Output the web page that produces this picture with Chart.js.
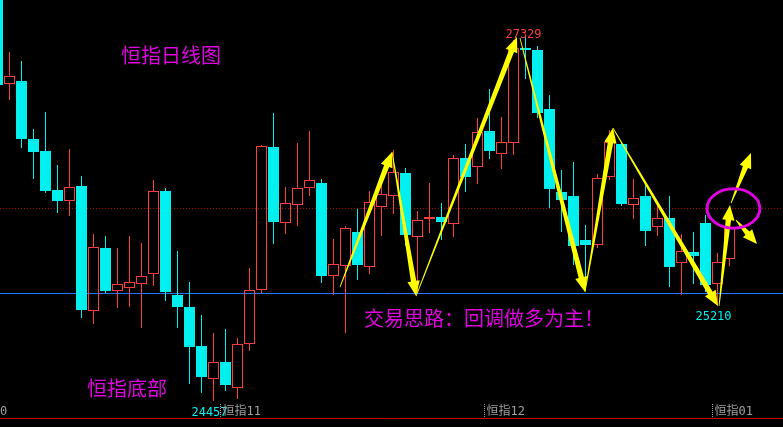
<!DOCTYPE html>
<html>
<head>
<meta charset="utf-8">
<script src="https://cdn.jsdelivr.net/npm/chart.js@4.4.1/dist/chart.umd.min.js"></script>
<style>
  html, body { margin: 0; padding: 0; background: #000; overflow: hidden; }
  #chart-container { width: 783px; height: 427px; }
</style>
</head>
<body>
<div id="chart-container"><canvas id="kline" width="783" height="427"></canvas></div>
<script>
// Daily candles, Hang Seng index
const opens  = [27774, 26955, 26978, 26521, 26427, 26120, 26033, 26151, 25166, 25663, 25324, 25347, 25379, 25458, 26112, 25292,
                25198, 24891, 24631, 24764, 24560, 24906, 25332, 26458, 25860, 26001, 26135, 26175, 25442, 25521, 25789, 25513,
                25986, 26072, 26254, 25749, 25891, 25907, 25852, 26372, 26301, 26584, 26403, 26490, 27238, 27223, 26758, 26104,
                26072, 25726, 25686, 26222, 26482, 26001, 26072, 25828, 25899, 25545, 25631, 25860, 25379, 25576];
const highs  = [27853, 27207, 27136, 26600, 26734, 26317, 26443, 26230, 25773, 25757, 25663, 25757, 25702, 26198, 26135, 25639,
                25395, 25135, 24993, 25024, 24954, 25505, 26474, 26726, 26143, 26490, 26584, 26206, 25734, 25836, 25970, 26112,
                26175, 26435, 26293, 25954, 26175, 26017, 26395, 26482, 26687, 26915, 26695, 27301, 27329, 27254, 26868, 26277,
                26340, 25844, 26246, 26592, 26498, 26206, 26159, 25994, 26072, 25773, 25789, 25923, 25623, 25883];
const lows   = [26947, 26829, 26451, 26206, 26096, 25938, 25915, 25111, 25064, 25308, 25190, 25198, 25032, 25363, 25245, 25032,
                24591, 24520, 24457, 24536, 24473, 24851, 25308, 25694, 25773, 25836, 26072, 25387, 25292, 24993, 25411, 25458,
                25757, 25930, 25678, 25308, 25781, 25726, 25749, 26104, 26167, 26364, 26285, 26395, 26994, 26687, 25978, 25789,
                25529, 25332, 25663, 26198, 25994, 25891, 25678, 25757, 25355, 25292, 25379, 25316, 25210, 25521];
const closes = [26947, 27018, 26521, 26419, 26112, 26033, 26143, 25174, 25670, 25324, 25379, 25395, 25442, 26112, 25316, 25198,
                24883, 24646, 24764, 24583, 24906, 25332, 26466, 25868, 26017, 26135, 26198, 25442, 25537, 25820, 25529, 26025,
                26088, 26261, 25765, 25883, 25907, 25868, 26372, 26222, 26577, 26427, 26498, 27238, 27223, 26726, 26128, 26041,
                25678, 25686, 26214, 26498, 26009, 26057, 25797, 25899, 25513, 25639, 25600, 25371, 25552, 25820];

// month boundaries (between candles) and their labels
const monthBreaks = [18.5, 40.5, 59.5];
const monthLabels = ['恒指11', '恒指12', '恒指01'];

// marked extremes: candle index of the high / lows that get a price tag
const highMark = 44;
const lowMarks = [18, 60];

// reference levels
const supportLevel = 25306;
const dottedLevel = 25975;

// hand-drawn arrows: [candle index, price] of tail and tip
const arrowTails = [[28.54, 25355], [32.88, 26419], [34.88, 25284], [43.54, 27317], [48.96, 25316],
                    [51.29, 26608], [60.13, 25206], [61.13, 26017], [61.54, 25883]];
const arrowTips  = [[32.88, 26419], [34.88, 25284], [43.29, 27325], [48.96, 25316], [51.29, 26608],
                    [60.04, 25206], [61.04, 26001], [62.79, 26411], [63.29, 25694]];

// circled area: centre [index, price] and radii [candles, points]
const ringCenter = [61.33, 25974];
const ringRadius = [2.2, 155];

const UP = '#ff3c3c';
const DOWN = '#00f0f0';
const MAGENTA = '#e000e0';

const isUp = opens.map((o, i) => closes[i] >= o);
const candleColor = isUp.map(u => (u ? UP : DOWN));

const bodyData = opens.map((o, i) => ({ x: i, y: [o, closes[i]] }));
const upperWick = opens.map((o, i) => ({ x: i, y: [Math.max(o, closes[i]), highs[i]] }));
const lowerWick = opens.map((o, i) => ({ x: i, y: [lows[i], Math.min(o, closes[i])] }));

// Draws tapered arrow like the drawing tool in the trading software
function drawArrow(ctx, x1, y1, x2, y2) {
  const dx = x2 - x1, dy = y2 - y1;
  const len = Math.hypot(dx, dy);
  const ux = dx / len, uy = dy / len;
  const nx = -uy, ny = ux;
  const headLen = Math.min(15, len * 0.45);
  const bx = x2 - ux * headLen, by = y2 - uy * headLen;
  const tailW = 0.4, shaftW = 2.7, headW = 6.2;
  ctx.beginPath();
  ctx.moveTo(x1 + nx * tailW, y1 + ny * tailW);
  ctx.lineTo(bx + nx * shaftW, by + ny * shaftW);
  ctx.lineTo(bx + nx * headW, by + ny * headW);
  ctx.lineTo(x2, y2);
  ctx.lineTo(bx - nx * headW, by - ny * headW);
  ctx.lineTo(bx - nx * shaftW, by - ny * shaftW);
  ctx.lineTo(x1 - nx * tailW, y1 - ny * tailW);
  ctx.closePath();
  ctx.fill();
}

const overlay = {
  id: 'overlay',
  beforeDatasetsDraw(chart) {
    const { ctx, width, scales: { y } } = chart;
    ctx.save();
    ctx.lineWidth = 1;
    // dotted level
    let py = Math.round(y.getPixelForValue(dottedLevel)) + 0.5;
    ctx.strokeStyle = '#a80000';
    ctx.setLineDash([1, 2]);
    ctx.beginPath(); ctx.moveTo(0, py); ctx.lineTo(width, py); ctx.stroke();
    // support level
    ctx.setLineDash([]);
    py = Math.round(y.getPixelForValue(supportLevel)) + 0.5;
    ctx.strokeStyle = '#1e78ff';
    ctx.beginPath(); ctx.moveTo(0, py); ctx.lineTo(width, py); ctx.stroke();
    ctx.restore();
  },
  afterDatasetsDraw(chart) {
    const { ctx, width, height, scales: { x, y } } = chart;
    ctx.save();

    // yellow arrows
    ctx.fillStyle = '#ffff00';
    arrowTails.forEach((t, i) => {
      const tip = arrowTips[i];
      drawArrow(ctx, x.getPixelForValue(t[0]), y.getPixelForValue(t[1]),
                x.getPixelForValue(tip[0]), y.getPixelForValue(tip[1]));
    });

    // magenta ring
    const cx = x.getPixelForValue(ringCenter[0]);
    const cy = y.getPixelForValue(ringCenter[1]);
    const rx = x.getPixelForValue(ringCenter[0] + ringRadius[0]) - cx;
    const ry = cy - y.getPixelForValue(ringCenter[1] + ringRadius[1]);
    ctx.strokeStyle = MAGENTA;
    ctx.lineWidth = 3;
    ctx.beginPath(); ctx.ellipse(cx, cy, rx, ry, 0, 0, Math.PI * 2); ctx.stroke();

    // captions
    ctx.fillStyle = MAGENTA;
    ctx.font = '20px "Noto Sans CJK SC"';
    ctx.textBaseline = 'middle';
    ctx.textAlign = 'left';
    ctx.fillText('恒指日线图', 121, 55);
    ctx.fillText('恒指底部', 87, 388);
    ctx.fillText('交易思路：回调做多为主！', 364, 318);

    // price tags of extremes
    ctx.font = '12px "DejaVu Sans Mono"';
    ctx.textAlign = 'center';
    ctx.textBaseline = 'alphabetic';
    ctx.fillStyle = UP;
    ctx.fillText(String(highs[highMark]), x.getPixelForValue(highMark) - 2, y.getPixelForValue(highs[highMark]) + 1.5);
    ctx.fillStyle = DOWN;
    lowMarks.forEach(i => {
      ctx.fillText(String(lows[i]), x.getPixelForValue(i) - 4, y.getPixelForValue(lows[i]) + 15);
    });

    // bottom frame line
    ctx.strokeStyle = '#d00000';
    ctx.lineWidth = 1;
    ctx.beginPath(); ctx.moveTo(0, height - 8.5); ctx.lineTo(width, height - 8.5); ctx.stroke();

    // month markers
    ctx.fillStyle = '#a0a0a0';
    ctx.strokeStyle = '#a0a0a0';
    ctx.textAlign = 'left';
    ctx.font = '12px "DejaVu Sans Mono", "Noto Sans CJK SC"';
    ctx.fillText('0', 0, 415);
    monthBreaks.forEach((m, i) => {
      const px = Math.round(x.getPixelForValue(m)) + 0.5;
      ctx.setLineDash([1, 1]);
      ctx.beginPath(); ctx.moveTo(px, 404); ctx.lineTo(px, 417); ctx.stroke();
      ctx.setLineDash([]);
      ctx.fillText(monthLabels[i], px + 2, 415);
    });

    ctx.restore();
  }
};

const ctx = document.getElementById('kline').getContext('2d');
const klineChart = new Chart(ctx, {
  type: 'bar',
  data: {
    datasets: [
      {
        label: 'body',
        data: bodyData,
        backgroundColor: isUp.map(u => (u ? 'rgba(0,0,0,0)' : DOWN)),
        borderColor: candleColor,
        borderWidth: 1,
        borderSkipped: false,
        barThickness: 11,
        grouped: false,
        inflateAmount: 0,
        order: 0,
      },
      {
        label: 'upper wick',
        data: upperWick,
        backgroundColor: candleColor,
        borderWidth: 0,
        barThickness: 1,
        grouped: false,
        inflateAmount: 0,
        order: 1,
      },
      {
        label: 'lower wick',
        data: lowerWick,
        backgroundColor: candleColor,
        borderWidth: 0,
        barThickness: 1,
        grouped: false,
        inflateAmount: 0,
        order: 2,
      },
    ],
  },
  options: {
    responsive: false,
    animation: false,
    layout: { padding: 0 },
    scales: {
      x: { type: 'linear', min: 0.2083, max: 65.4583, offset: false, display: false },
      y: { type: 'linear', min: 24252, max: 27617, display: false },
    },
    plugins: {
      legend: { display: false },
      tooltip: { enabled: false },
    },
  },
  plugins: [overlay],
});
</script>
</body>
</html>
